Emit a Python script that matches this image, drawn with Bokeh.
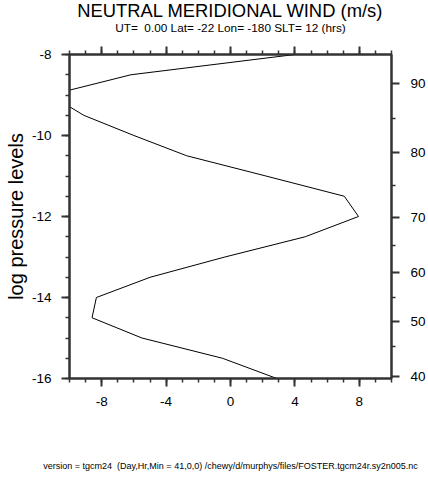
from bokeh.plotting import figure
from bokeh.models import (Range1d, LinearAxis, SingleIntervalTicker, FixedTicker,
                          Title, PrintfTickFormatter)
from bokeh.embed import file_html
from bokeh.resources import INLINE

# ---- data ----
log_pressure = [-16.0, -15.5, -15.0, -14.5, -14.0, -13.5, -13.0, -12.5, -12.0,
                -11.5, -11.0, -10.5, -10.0, -9.5, -9.0, -8.5, -8.0]
meridional_wind = [2.88, -0.5, -5.5, -8.6, -8.33, -4.99, -0.35, 4.64, 7.95,
                   7.07, 2.2, -2.72, -6.0, -9.12, -11.2, -6.18, 4.0]

height_km = [40, 50, 60, 70, 80, 90]
height_lev = [-15.95, -14.59, -13.38, -12.02, -10.41, -8.72]
minor_height_lev = [-15.21, -14.0, -12.72, -11.23, -9.57]

title_text = "NEUTRAL MERIDIONAL WIND (m/s)"
subtitle_text = "UT=\u00a0 0.00 Lat= -22 Lon= -180 SLT= 12 (hrs)"
footer_text = ("version = tgcm24\u00a0 (Day,Hr,Min = 41,0,0) "
               "/chewy/d/murphys/files/FOSTER.tgcm24r.sy2n005.nc")
ylabel_text = "log pressure levels"

FONT = "Liberation Sans"
AXC = "#333333"

p = figure(width=428, height=485, x_range=Range1d(-10, 10), y_range=Range1d(-16, -8),
           output_backend="svg", toolbar_location=None,
           min_border_left=69, min_border_right=35, min_border_top=54, min_border_bottom=107)
p.grid.visible = False
p.outline_line_color = AXC
p.outline_line_width = 2
p.background_fill_color = "white"
p.border_fill_color = "white"

p.line(meridional_wind, log_pressure, line_color="black", line_width=1)


def style(ax, standoff):
    ax.axis_line_width = 2
    ax.axis_line_color = AXC
    ax.major_tick_line_width = 2
    ax.major_tick_line_color = AXC
    ax.minor_tick_line_width = 1.5
    ax.minor_tick_line_color = AXC
    ax.major_tick_out = 8
    ax.major_tick_in = 0
    ax.minor_tick_out = 4
    ax.minor_tick_in = 0
    ax.major_label_text_font = FONT
    ax.major_label_text_font_size = "13.5px"
    ax.major_label_text_color = "black"
    ax.major_label_standoff = standoff
    ax.axis_label_text_font = FONT
    ax.axis_label_text_font_style = "normal"
    ax.axis_label_text_color = "black"


xa = p.xaxis[0]
xa.ticker = SingleIntervalTicker(interval=4, num_minor_ticks=4)
xa.formatter = PrintfTickFormatter(format="%d")
style(xa, 10)
xa.axis_label = footer_text
xa.axis_label_text_font_size = "9px"
xa.axis_label_standoff = 52

ya = p.yaxis[0]
ya.ticker = SingleIntervalTicker(interval=2, num_minor_ticks=4)
ya.formatter = PrintfTickFormatter(format="%d")
style(ya, 10)
ya.axis_label = ylabel_text
ya.axis_label_text_font_size = "20px"
ya.axis_label_standoff = 2

top = LinearAxis(ticker=SingleIntervalTicker(interval=4, num_minor_ticks=4))
style(top, 5)
top.major_label_text_color = None
top.axis_label = subtitle_text
top.axis_label_text_font_size = "11.8px"
top.axis_label_standoff = 12
p.add_layout(top, "above")

right = LinearAxis(ticker=FixedTicker(ticks=height_lev, minor_ticks=minor_height_lev),
                   major_label_overrides={lv: str(h) for lv, h in zip(height_lev, height_km)})
style(right, 11)
p.add_layout(right, "right")

title = Title(text=title_text, align="center", text_font=FONT,
              text_font_size="18.4px", text_font_style="normal",
              text_color="black", standoff=0)
try:
    title.standoff = -6
except Exception:
    title.standoff = 0
p.add_layout(title, "above")

open("out.html", "w").write(file_html(p, INLINE))
